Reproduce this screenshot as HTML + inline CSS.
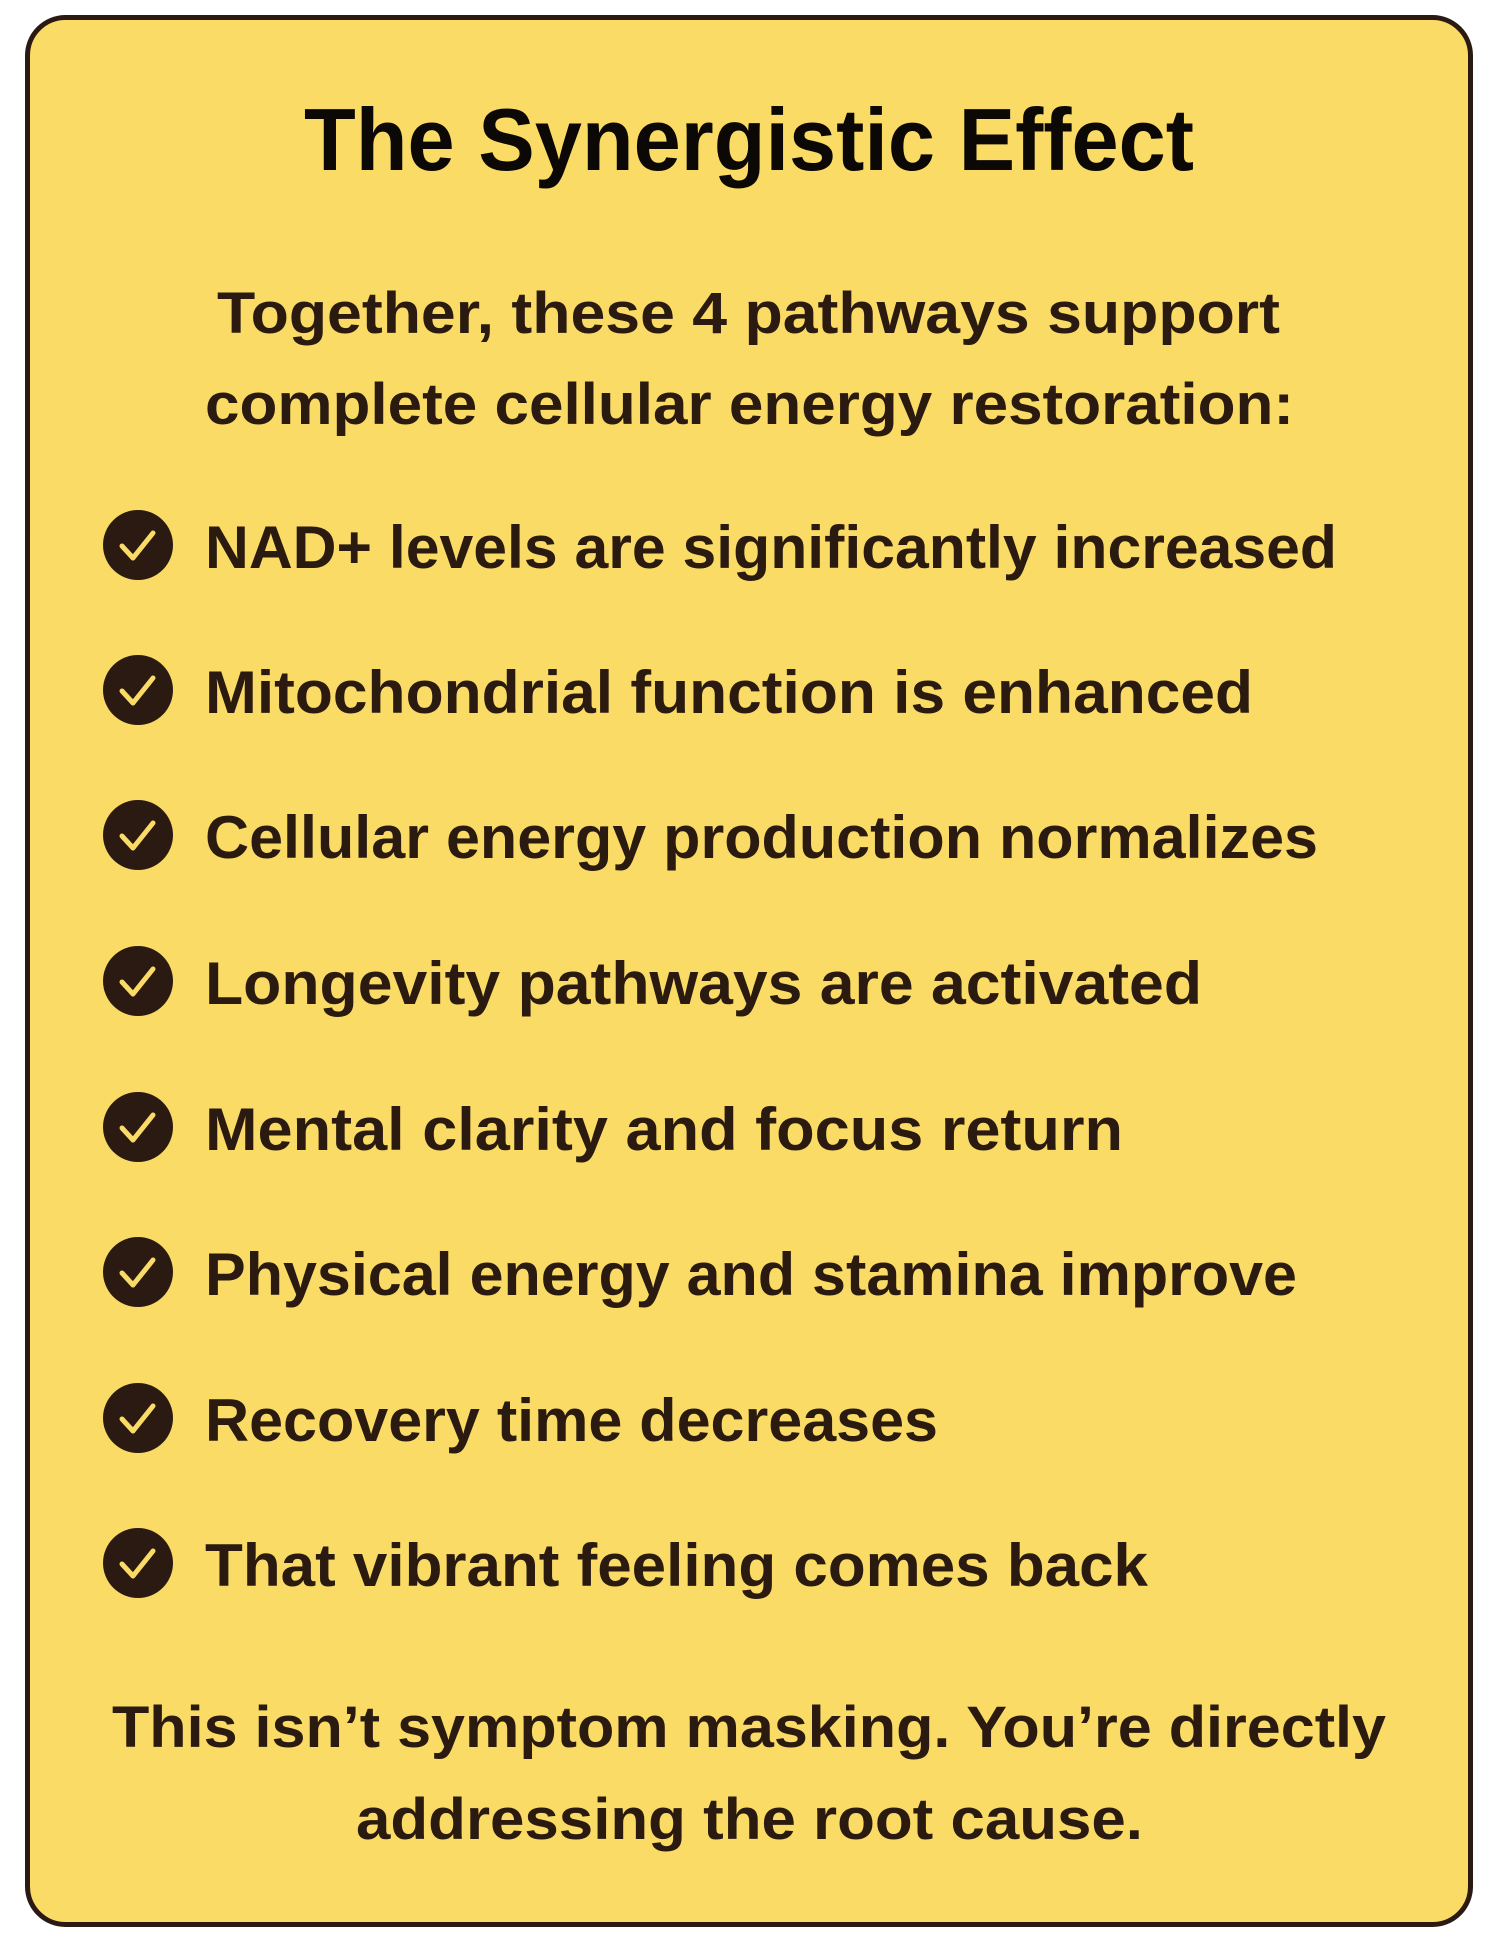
<!DOCTYPE html>
<html><head><meta charset="utf-8"><style>
html,body{margin:0;padding:0;background:#fff;}
svg{display:block;}
text{font-family:"Liberation Sans",sans-serif;font-weight:bold;fill:#2a1a10;}
</style></head><body>
<svg width="1500" height="1941" viewBox="0 0 1500 1941" xmlns="http://www.w3.org/2000/svg">
<rect x="27.5" y="17.5" width="1443" height="1907" rx="38" fill="#f9db66" stroke="#2b1a12" stroke-width="5"/>
<text x="304" y="170" font-size="88" textLength="890" lengthAdjust="spacingAndGlyphs" style="fill:#0c0805">The Synergistic Effect</text>
<text x="217" y="333" font-size="58" textLength="1063" lengthAdjust="spacingAndGlyphs">Together, these 4 pathways support</text>
<text x="205" y="424" font-size="58" textLength="1089" lengthAdjust="spacingAndGlyphs">complete cellular energy restoration:</text>
<g>
<circle cx="138" cy="545" r="35" fill="#2b1a12"/><path d="M122 546 l11 12 l20 -25" stroke="#f9db66" stroke-width="5" fill="none" stroke-linecap="round" stroke-linejoin="round"/>
<text x="205" y="568" font-size="60" textLength="1132" lengthAdjust="spacingAndGlyphs">NAD+ levels are significantly increased</text>
<circle cx="138" cy="690" r="35" fill="#2b1a12"/><path d="M122 691 l11 12 l20 -25" stroke="#f9db66" stroke-width="5" fill="none" stroke-linecap="round" stroke-linejoin="round"/>
<text x="205" y="713" font-size="60" textLength="1048" lengthAdjust="spacingAndGlyphs">Mitochondrial function is enhanced</text>
<circle cx="138" cy="835" r="35" fill="#2b1a12"/><path d="M122 836 l11 12 l20 -25" stroke="#f9db66" stroke-width="5" fill="none" stroke-linecap="round" stroke-linejoin="round"/>
<text x="205" y="858" font-size="60" textLength="1113" lengthAdjust="spacingAndGlyphs">Cellular energy production normalizes</text>
<circle cx="138" cy="981" r="35" fill="#2b1a12"/><path d="M122 982 l11 12 l20 -25" stroke="#f9db66" stroke-width="5" fill="none" stroke-linecap="round" stroke-linejoin="round"/>
<text x="205" y="1004" font-size="60" textLength="997" lengthAdjust="spacingAndGlyphs">Longevity pathways are activated</text>
<circle cx="138" cy="1127" r="35" fill="#2b1a12"/><path d="M122 1128 l11 12 l20 -25" stroke="#f9db66" stroke-width="5" fill="none" stroke-linecap="round" stroke-linejoin="round"/>
<text x="205" y="1150" font-size="60" textLength="918" lengthAdjust="spacingAndGlyphs">Mental clarity and focus return</text>
<circle cx="138" cy="1272" r="35" fill="#2b1a12"/><path d="M122 1273 l11 12 l20 -25" stroke="#f9db66" stroke-width="5" fill="none" stroke-linecap="round" stroke-linejoin="round"/>
<text x="205" y="1295" font-size="60" textLength="1092" lengthAdjust="spacingAndGlyphs">Physical energy and stamina improve</text>
<circle cx="138" cy="1418" r="35" fill="#2b1a12"/><path d="M122 1419 l11 12 l20 -25" stroke="#f9db66" stroke-width="5" fill="none" stroke-linecap="round" stroke-linejoin="round"/>
<text x="205" y="1441" font-size="60" textLength="733" lengthAdjust="spacingAndGlyphs">Recovery time decreases</text>
<circle cx="138" cy="1563" r="35" fill="#2b1a12"/><path d="M122 1564 l11 12 l20 -25" stroke="#f9db66" stroke-width="5" fill="none" stroke-linecap="round" stroke-linejoin="round"/>
<text x="205" y="1586" font-size="60" textLength="943" lengthAdjust="spacingAndGlyphs">That vibrant feeling comes back</text>
</g>
<text x="112" y="1747" font-size="58" textLength="1274" lengthAdjust="spacingAndGlyphs">This isn’t symptom masking. You’re directly</text>
<text x="356" y="1839" font-size="58" textLength="787" lengthAdjust="spacingAndGlyphs">addressing the root cause.</text>
</svg>
</body></html>
